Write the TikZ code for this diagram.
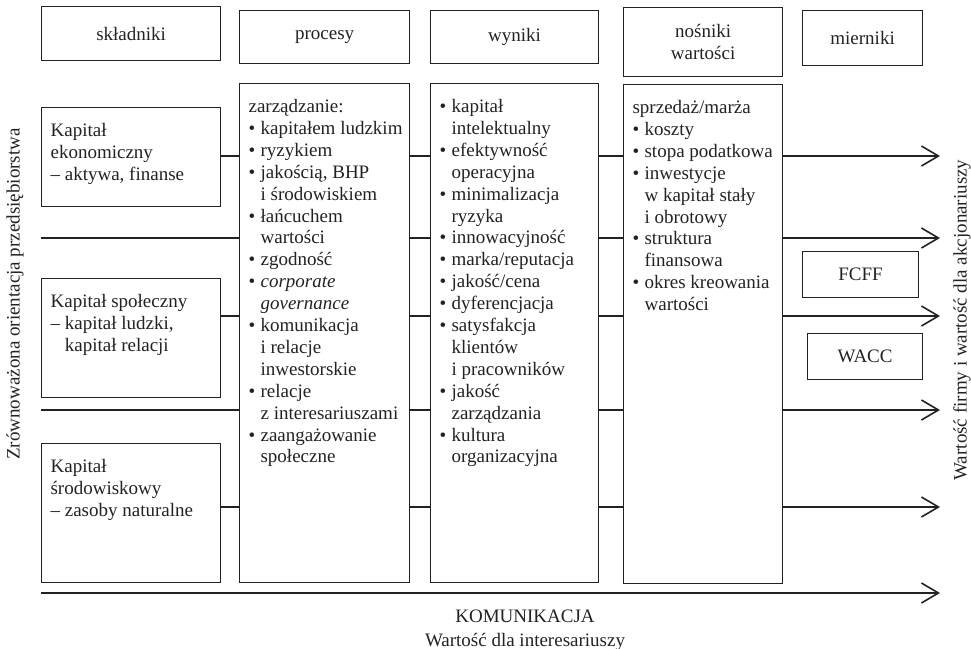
\documentclass[tikz,border=0pt]{standalone}
\usepackage{fontspec}
\setmainfont{Liberation Serif}
\usepackage{xcolor}
\usetikzlibrary{arrows.meta,positioning}
\definecolor{inkgray}{HTML}{222222}
\newcommand{\bul}{\makebox[6pt][l]{\textbullet}}
\newcommand{\ind}{\hspace*{6pt}}
\newcommand{\boxtxt}[3]{\parbox[c][#2][t]{#1}{\raggedright\leftskip=4.5pt\strut #3}}

\begin{document}
\begin{tikzpicture}[
  x=0.5pt, y=-0.5pt,
  every node/.append style={font=\fontsize{9.5}{10.95}\selectfont, text=inkgray},
  hdr/.style={draw=inkgray, line width=0.6pt, anchor=north west, inner sep=0pt, align=center},
  col/.style={draw=inkgray, line width=0.6pt, anchor=north west, inner xsep=0pt, inner ysep=6.8pt},
  link/.style={draw=inkgray, line width=0.8pt},
  flow/.style={link, -{Straight Barb[length=8.5pt, width=10pt, line width=0.8pt]}}
]
  \useasboundingbox (0,0) rectangle (971,649);

  % column headers
  \node[hdr, minimum width=89.5pt, minimum height=27pt] (sklH) at (41,6) {składniki};
  \node[hdr, minimum width=85pt, minimum height=26.5pt] (procH) at (239,10) {procesy};
  \node[hdr, minimum width=84pt, minimum height=26.5pt] (wynH) at (430,10) {wyniki};
  \node[hdr, minimum width=79.5pt, minimum height=34.5pt] (nosH) at (623,7) {nośniki\\wartości};
  \node[hdr, minimum width=60pt, minimum height=27.5pt] (mierH) at (802,10) {mierniki};

  % capitals
  \node[col] (eko) at (41,107) {\boxtxt{89.5pt}{35.9pt}{Kapitał\\ekonomiczny\\– aktywa, finanse}};
  \node[col] (spo) at (41,278) {\boxtxt{89.5pt}{45.9pt}{Kapitał społeczny\\– kapitał ludzki,\\\phantom{– }kapitał relacji}};
  \node[col] (sro) at (41,443) {\boxtxt{89.5pt}{55.9pt}{Kapitał\\środowiskowy\\– zasoby naturalne}};

  % processes, results, value drivers
  \node[col] (proc) at (239,83) {\boxtxt{85pt}{235.9pt}{zarządzanie:\\
    \bul kapitałem ludzkim\\
    \bul ryzykiem\\
    \bul jakością, BHP\\\ind i środowiskiem\\
    \bul łańcuchem\\\ind wartości\\
    \bul zgodność\\
    \bul \textit{corporate}\\\ind \textit{governance}\\
    \bul komunikacja\\\ind i relacje\\\ind inwestorskie\\
    \bul relacje\\\ind z interesariuszami\\
    \bul zaangażowanie\\\ind społeczne}};
  \node[col] (wyn) at (430,83) {\boxtxt{84pt}{235.9pt}{\bul kapitał\\\ind intelektualny\\
    \bul efektywność\\\ind operacyjna\\
    \bul minimalizacja\\\ind ryzyka\\
    \bul innowacyjność\\
    \bul marka/reputacja\\
    \bul jakość/cena\\
    \bul dyferencjacja\\
    \bul satysfakcja\\\ind klientów\\\ind i pracowników\\
    \bul jakość\\\ind zarządzania\\
    \bul kultura\\\ind organizacyjna}};
  \node[col] (nos) at (623,84) {\boxtxt{79.5pt}{235.9pt}{sprzedaż/marża\\
    \bul koszty\\
    \bul stopa podatkowa\\
    \bul inwestycje\\\ind w kapitał stały\\\ind i obrotowy\\
    \bul struktura\\\ind finansowa\\
    \bul okres kreowania\\\ind wartości}};

  % measures
  \node[hdr, minimum width=58pt, minimum height=23pt] (fcff) at (802,251) {FCFF};
  \node[hdr, minimum width=57.5pt, minimum height=23pt] (wacc) at (807,333) {WACC};

  % rows
  \coordinate (r1) at (0,156);
  \coordinate (r2) at (0,238);
  \coordinate (r3) at (0,316);
  \coordinate (r4) at (0,410);
  \coordinate (r5) at (0,507);
  \coordinate (r6) at (0,593);
  \coordinate (tip) at (940,0);

  \draw[link] (eko.east |- r1) -- (proc.west |- r1);
  \draw[link] (eko.west |- r2) -- (proc.west |- r2);
  \draw[link] (spo.east |- r3) -- (proc.west |- r3);
  \draw[link] (spo.west |- r4) -- (proc.west |- r4);
  \draw[link] (sro.east |- r5) -- (proc.west |- r5);
  \foreach \r in {r1,r2,r3,r4,r5}{
    \draw[link] (proc.east |- \r) -- (wyn.west |- \r);
    \draw[link] (wyn.east |- \r) -- (nos.west |- \r);
    \draw[flow] (nos.east |- \r) -- (tip |- \r);
  }
  \draw[flow] (sro.west |- r6) -- (tip |- r6);

  % side and bottom labels
  \node[rotate=90] (orient) at (15,294) {Zrównoważona orientacja przedsiębiorstwa};
  \node[rotate=90] (wartosc) at (962,320) {Wartość firmy i wartość dla akcjonariuszy};
  \node[align=center] (komun) at (525,630) {KOMUNIKACJA\\[1pt]Wartość dla interesariuszy};
\end{tikzpicture}
\end{document}
